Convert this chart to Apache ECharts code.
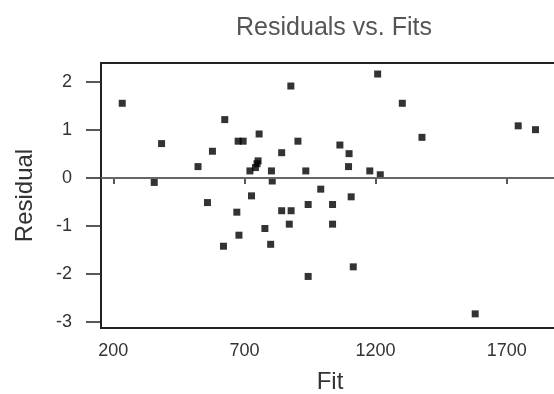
<!DOCTYPE html>
<html>
<head>
<meta charset="utf-8">
<title>Residuals vs. Fits</title>
<script src="https://cdn.jsdelivr.net/npm/echarts@6/dist/echarts.min.js"></script>
<style>
  html, body { margin: 0; padding: 0; background: #fff; }
  #chart { width: 554px; height: 394px; }
</style>
</head>
<body>
<div id="chart"></div>
<script>
// fitted values and residuals
const fits = [
  234, 356, 384, 523, 559, 578, 620, 625, 671, 676,
  679, 695, 721, 727, 742, 748, 752, 756, 778, 800,
  803, 806, 842, 842, 871, 877, 878, 904, 934, 943,
  943, 991, 1036, 1036, 1064, 1097, 1099, 1107, 1115, 1178,
  1208, 1218, 1302, 1377, 1580, 1744, 1810
]
const residuals = [
  1.56, -0.09, 0.72, 0.24, -0.51, 0.56, -1.42, 1.22, -0.71, 0.77,
  -1.19, 0.77, 0.15, -0.37, 0.22, 0.30, 0.36, 0.92, -1.05, -1.38,
  0.15, -0.06, 0.53, -0.68, -0.96, 1.92, -0.68, 0.77, 0.15, -0.55,
  -2.05, -0.23, -0.55, -0.96, 0.69, 0.24, 0.51, -0.39, -1.85, 0.15,
  2.17, 0.07, 1.56, 0.85, -2.83, 1.09, 1.01
]
const xTicks = [200, 700, 1200, 1700]
const yTicks = [-3, -2, -1, 0, 1, 2]

const FONT = 'Liberation Sans, Arial, sans-serif'
const chart = echarts.init(document.getElementById('chart'), null, { renderer: 'canvas' })

// plain numbers, no thousands separator
const plain = v => String(v)

chart.setOption({
  animation: false,
  title: {
    text: 'Residuals vs. Fits',
    left: 329,
    top: 11,
    textAlign: 'center',
    textStyle: { fontFamily: FONT, fontSize: 25, fontWeight: 'normal', color: '#555' }
  },
  // the frame runs past the right edge of the picture, as in the original
  grid: {
    left: 101, top: 63, right: -8, bottom: 66,
    outerBoundsMode: 'none',
    show: true, borderColor: '#222', borderWidth: 2, backgroundColor: 'transparent'
  },
  xAxis: {
    type: 'value',
    min: 153,
    max: 1911,
    name: 'Fit',
    nameLocation: 'middle',
    nameGap: 42,
    nameTextStyle: { fontFamily: FONT, fontSize: 24, color: '#333', padding: [0, 3, 0, 0] },
    axisLine: { show: false },
    axisTick: { show: true, customValues: xTicks, length: 6, lineStyle: { color: '#222', width: 1.5 } },
    axisLabel: { customValues: xTicks, formatter: plain, margin: 14, fontFamily: FONT, fontSize: 18, color: '#333' },
    splitLine: { show: false }
  },
  yAxis: {
    type: 'value',
    min: -3.125,
    max: 2.4,
    name: 'Residual',
    nameLocation: 'middle',
    nameGap: 64,
    nameTextStyle: { fontFamily: FONT, fontSize: 24, color: '#333' },
    axisLine: { show: false },
    axisTick: { show: true, customValues: yTicks, length: 15, lineStyle: { color: '#222', width: 1.5 } },
    axisLabel: { customValues: yTicks, formatter: plain, margin: 29, fontFamily: FONT, fontSize: 18, color: '#333' },
    splitLine: { show: false }
  },
  series: [
    {
      type: 'scatter',
      data: fits.map((f, i) => [f, residuals[i]]),
      symbol: 'rect',
      symbolSize: 7,
      itemStyle: { color: '#000' },
      markLine: {
        silent: true,
        symbol: 'none',
        label: { show: false },
        lineStyle: { color: '#666', width: 2, type: 'solid' },
        data: [{ yAxis: 0 }]
      }
    }
  ]
})
</script>
</body>
</html>
